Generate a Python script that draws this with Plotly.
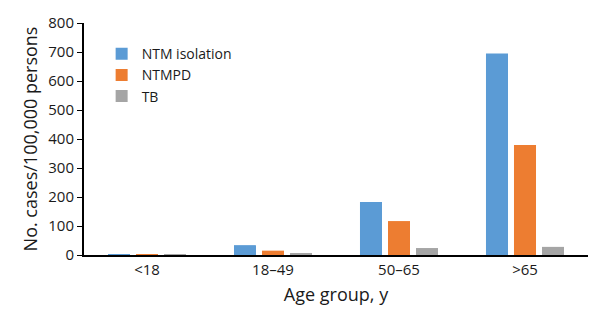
import plotly.graph_objects as go

age_groups = ["<18", "18–49", "50–65", ">65"]
ntm_isolation = [0.6, 34, 183, 695]
ntmpd = [0.3, 15, 117, 379]
tb = [0.2, 4, 24, 28]

series_names = ["NTM isolation", "NTMPD", "TB"]
colors = ["#5B9BD5", "#ED7D31", "#A5A5A5"]

FONT = "Open Sans"
TXT = "#1a1a1a"

fig = go.Figure()
for name, vals, col in zip(series_names, [ntm_isolation, ntmpd, tb], colors):
    fig.add_trace(go.Bar(name=name, x=age_groups, y=vals, marker_color=col,
                         marker_line_width=0))

fig.update_layout(
    width=600, height=322,
    margin=dict(l=84, r=12, t=19, b=67),
    paper_bgcolor="white", plot_bgcolor="white",
    barmode="group", bargap=0.333, bargroupgap=0.214,
    font=dict(family=FONT, color=TXT, size=15),
    legend=dict(x=0.035, y=0.935, xanchor="left", yanchor="top",
                font=dict(size=14, color=TXT), bgcolor="rgba(0,0,0,0)",
                itemwidth=30, tracegroupgap=0),
    showlegend=True,
)
fig.update_xaxes(
    showline=True, linecolor="black", linewidth=2, ticks="",
    tickfont=dict(size=15, color=TXT),
    title=dict(text="Age group, y", font=dict(size=18, color=TXT), standoff=10),
    showgrid=False,
)
fig.update_yaxes(
    range=[0, 800], dtick=100, showline=True, linecolor="black", linewidth=2,
    ticks="outside", ticklen=5, tickcolor="black", tickwidth=1,
    tickfont=dict(size=15, color=TXT), showgrid=False, zeroline=False,
    title=dict(text="No. cases/100,000 persons", font=dict(size=18, color=TXT), standoff=6),
)
fig.write_html("out.html")
